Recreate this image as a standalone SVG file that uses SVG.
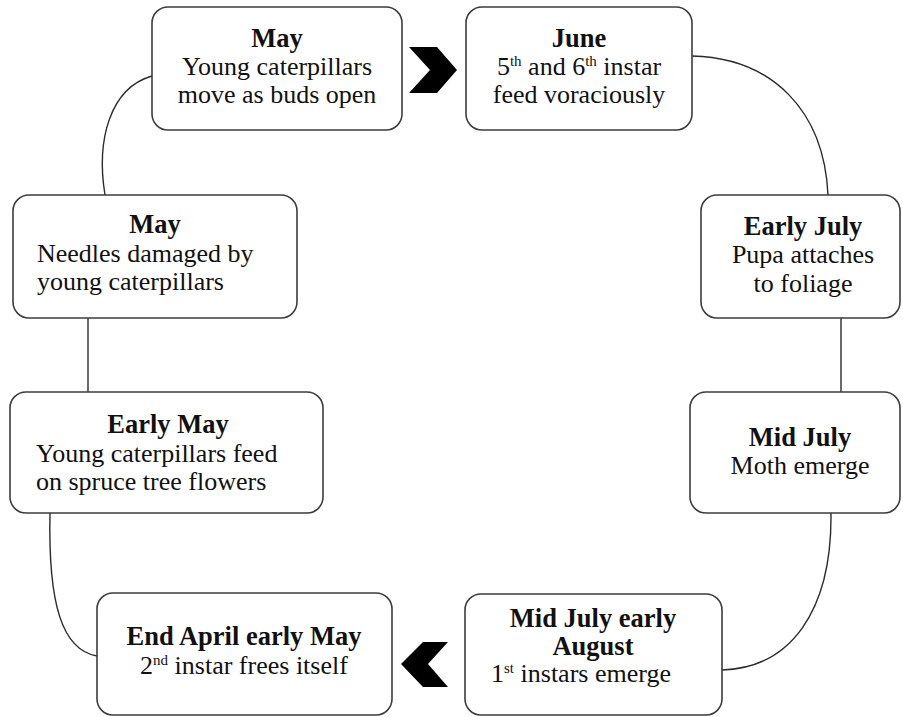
<svg xmlns="http://www.w3.org/2000/svg" width="903" height="717" viewBox="0 0 903 717">
<style>
.box{fill:#fff;stroke:#3c3c3c;stroke-width:1.6}
.con{fill:none;stroke:#2a2a2a;stroke-width:1.4}
text{font-family:'Liberation Serif','DejaVu Serif',serif;font-size:26px;fill:#111}
.t{font-weight:bold;text-anchor:middle;font-size:26.5px}
.c{text-anchor:middle}
.sup{font-size:15px}
.chev{fill:#000}
</style>
<rect width="903" height="717" fill="#fff"/>
<g id="connectors">
<path class="con" d="M152,76 C 110,88 96,140 105,195"/>
<path class="con" d="M692,56 C 772,58 824,110 828,195"/>
<line class="con" x1="841" y1="318" x2="841" y2="392"/>
<path class="con" d="M831,513 C 832,612 790,668 722,670"/>
<line class="con" x1="88" y1="318" x2="88" y2="392"/>
<path class="con" d="M50,513 C 48,604 62,650 97,656"/>
<polygon class="chev" points="409,47 437,47 457,70 437,93 409,93 430,70"/>
<polygon class="chev" points="401,664 423,642 448,642 428,664 448,687 423,687"/>
</g>
<g id="n1">
<rect class="box" x="152" y="7" width="250" height="123" rx="16"/>
<text class="t" x="277" y="47">May</text>
<text class="c" x="277" y="75">Young caterpillars</text>
<text class="c" x="277" y="103">move as buds open</text>
</g>
<g id="n2">
<rect class="box" x="466" y="7" width="226" height="123" rx="16"/>
<text class="t" x="579" y="47">June</text>
<text class="c" x="579" y="75">5<tspan class="sup" dy="-9">th</tspan><tspan dy="9"> and 6</tspan><tspan class="sup" dy="-9">th</tspan><tspan dy="9"> instar</tspan></text>
<text class="c" x="579" y="103">feed voraciously</text>
</g>
<g id="n3">
<rect class="box" x="13" y="195" width="284" height="123" rx="16"/>
<text class="t" x="155" y="233">May</text>
<text x="37" y="262">Needles damaged by</text>
<text x="37" y="290">young caterpillars</text>
</g>
<g id="n4">
<rect class="box" x="701" y="195" width="199" height="123" rx="16"/>
<text class="t" x="803" y="235">Early July</text>
<text class="c" x="803" y="263">Pupa attaches</text>
<text class="c" x="803" y="292">to foliage</text>
</g>
<g id="n5">
<rect class="box" x="10" y="392" width="313" height="121" rx="16"/>
<text class="t" x="168" y="433">Early May</text>
<text x="36" y="462">Young caterpillars feed</text>
<text x="36" y="490">on spruce tree flowers</text>
</g>
<g id="n6">
<rect class="box" x="690" y="392" width="210" height="121" rx="16"/>
<text class="t" x="800" y="446">Mid July</text>
<text class="c" x="800" y="474">Moth emerge</text>
</g>
<g id="n7">
<rect class="box" x="97" y="593" width="295" height="122" rx="16"/>
<text class="t" x="244" y="645">End April early May</text>
<text class="c" x="244" y="674">2<tspan class="sup" dy="-9">nd</tspan><tspan dy="9"> instar frees itself</tspan></text>
</g>
<g id="n8">
<rect class="box" x="465" y="594" width="257" height="121" rx="16"/>
<text class="t" x="593" y="627">Mid July early</text>
<text class="t" x="593" y="655">August</text>
<text class="c" x="581" y="682">1<tspan class="sup" dy="-9">st</tspan><tspan dy="9"> instars emerge</tspan></text>
</g>
</svg>
